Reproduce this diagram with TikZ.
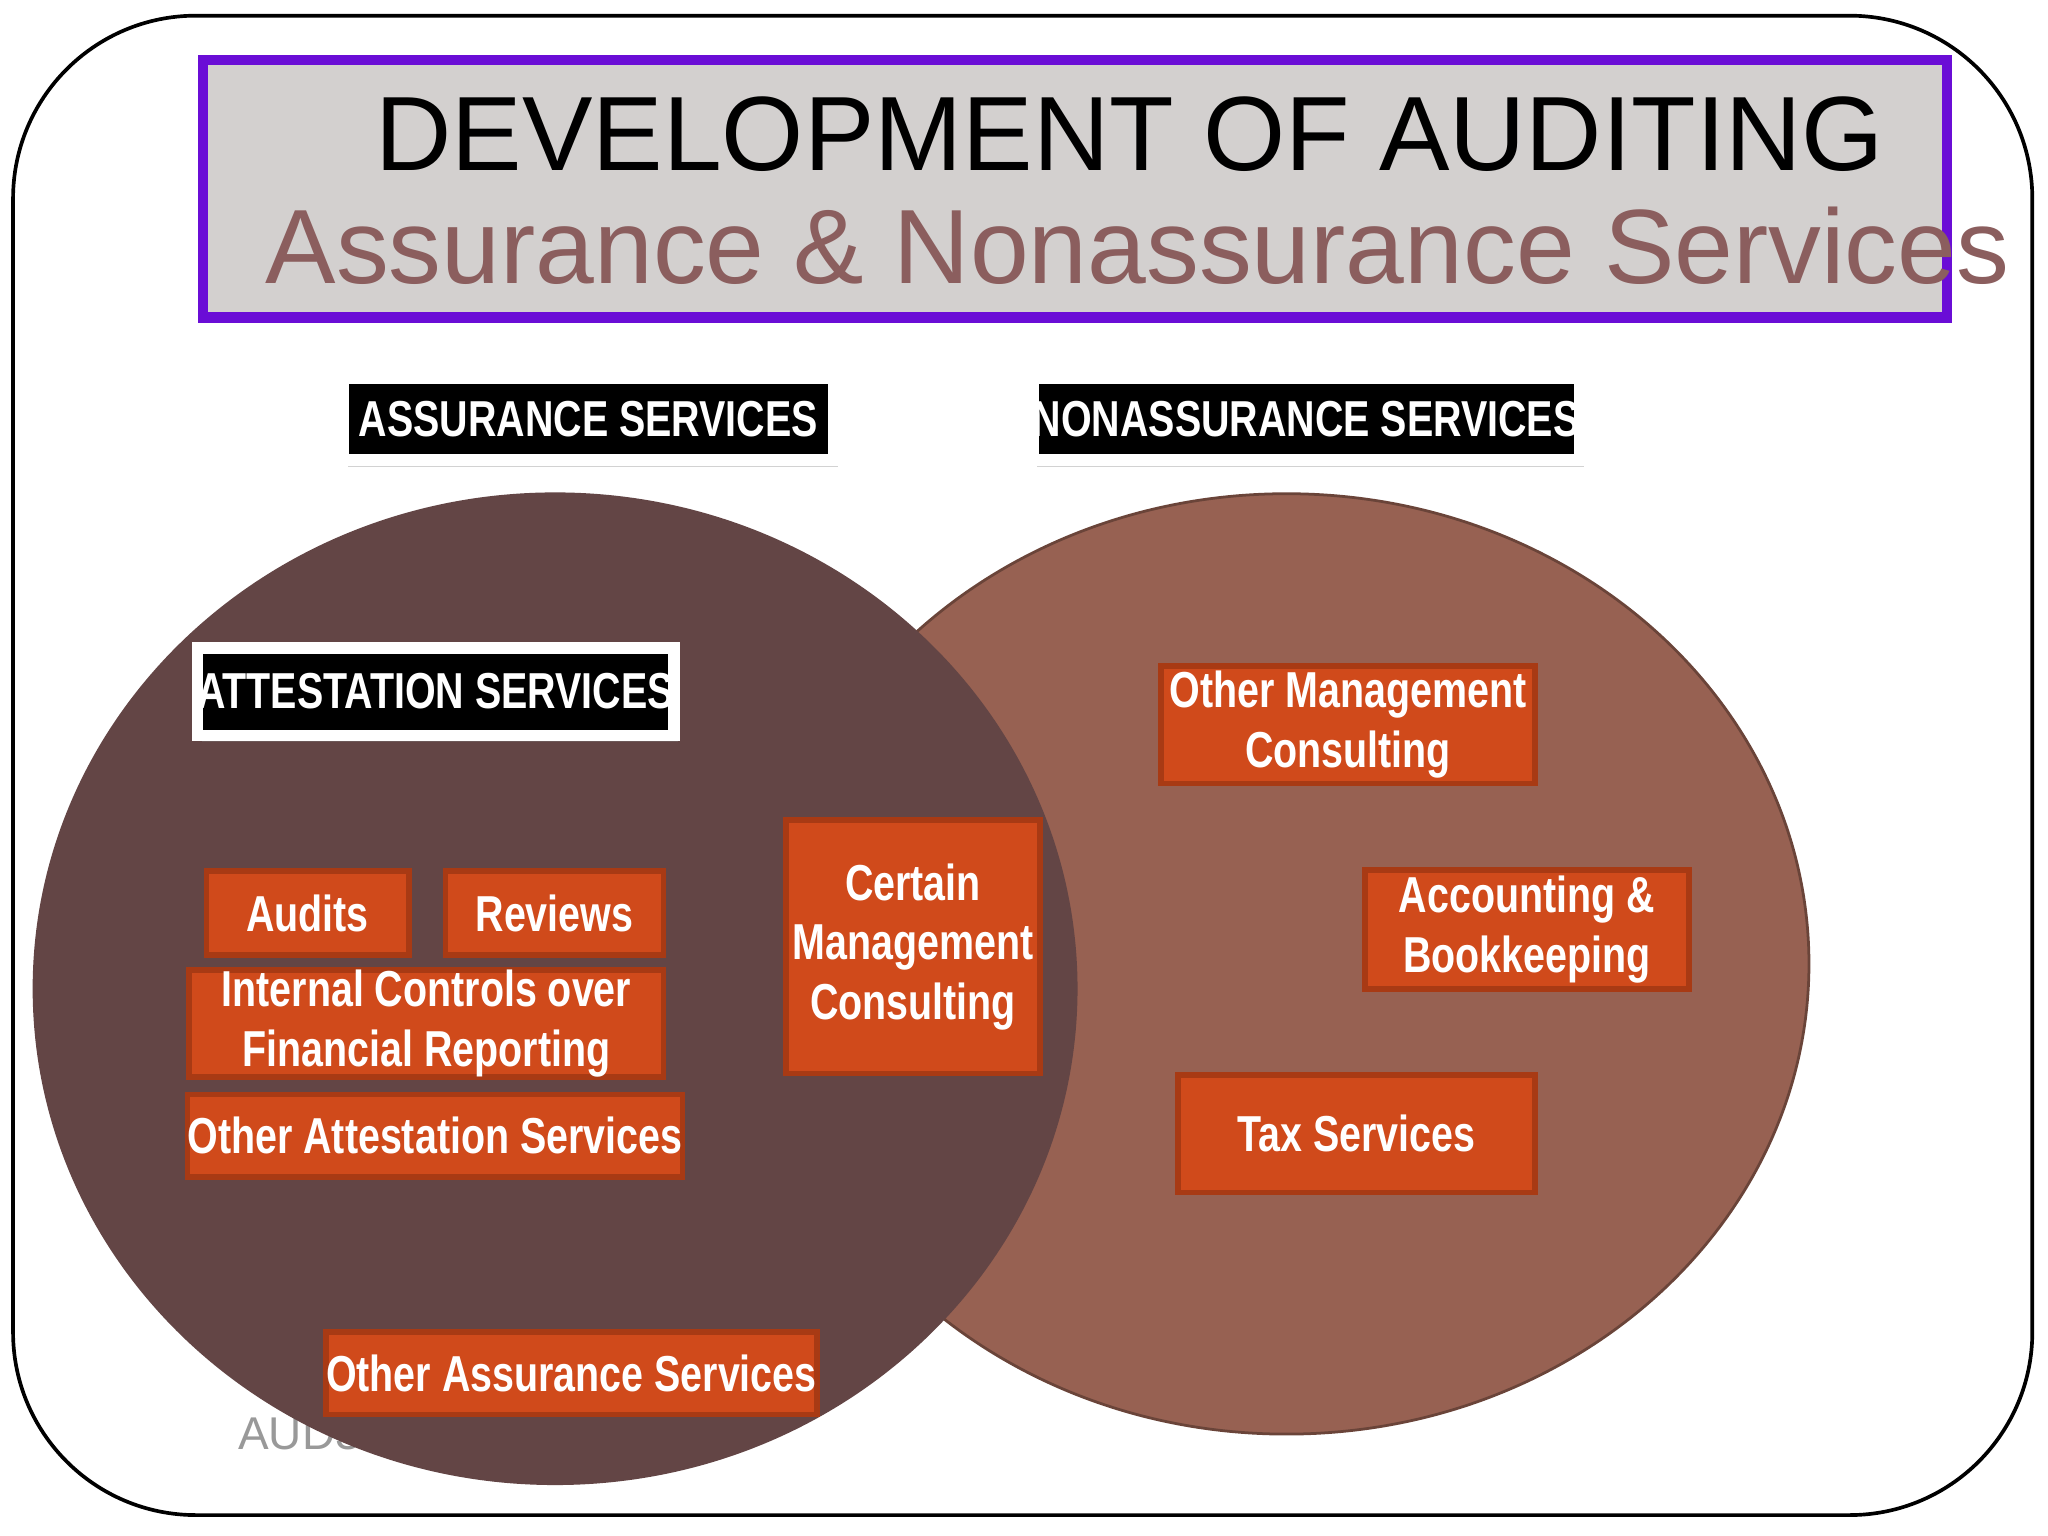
\documentclass[tikz,border=0pt]{standalone}
\usepackage{fontspec}
\setmainfont{Liberation Sans}
\newfontfamily\cond[FakeStretch=0.78]{Liberation Sans}
\usetikzlibrary{shadows}
\definecolor{purp}{HTML}{6A0DD6}
\definecolor{tgray}{HTML}{D3D0CF}
\definecolor{sub}{HTML}{8B5E5E}
\definecolor{lc}{HTML}{634545}
\definecolor{rc}{HTML}{976152}
\definecolor{obox}{HTML}{D04A1B}
\definecolor{oedge}{HTML}{A83A14}
\tikzset{
  ob/.style={fill=obox,draw=oedge,line width=1.2pt,text=white,font=\cond\bfseries\fontsize{11}{13}\selectfont,align=center,inner sep=0pt},
  bb/.style={fill=black,draw=white,line width=2.5pt,text=white,font=\cond\bfseries\fontsize{11}{13}\selectfont,align=center,inner sep=0pt,drop shadow={opacity=0.35,shadow xshift=1pt,shadow yshift=-1.5pt}}
}
\begin{document}
\begin{tikzpicture}[x=0.01cm,y=-0.01cm]
\useasboundingbox (0,0) rectangle (1568,1176);
\fill[white] (0,0) rectangle (1568,1176);
\draw[line width=0.8pt,rounded corners=1.4cm] (10,12) rectangle (1556,1160);
\node[draw=purp,fill=tgray,line width=2.2pt,minimum width=13.34cm,minimum height=1.97cm,inner sep=0pt] (title) at (823,144.5) {};
\node[font=\fontsize{23}{26}\selectfont] (t1) at (865,103) {DEVELOPMENT OF AUDITING};
\node[font=\fontsize{23}{26}\selectfont,text=sub] (t2) at (871,188) {Assurance \& Nonassurance Services};
\node[text=gray!80,font=\fontsize{10}{12}\selectfont,anchor=west] (aud) at (170,1098) {AUD301};
\fill[rc,draw=rc!70!black,line width=0.6pt] (985,738) ellipse [x radius=400,y radius=360];
\fill[lc] (425,757) ellipse [x radius=400,y radius=380];
\node[bb,minimum width=3.75cm,minimum height=0.62cm] (as) at (450.5,321) {ASSURANCE SERVICES};
\node[bb,minimum width=3.76cm,minimum height=0.62cm] (ns) at (1000,321) {NONASSURANCE SERVICES};
\node[bb,minimum width=3.53cm,minimum height=0.67cm] (att) at (333.5,529.5) {ATTESTATION SERVICES};
\node[ob,minimum width=1.55cm,minimum height=0.64cm] (audits) at (235.5,699) {Audits};
\node[ob,minimum width=1.67cm,minimum height=0.64cm] (rev) at (424.5,699) {Reviews};
\node[ob,minimum width=3.63cm,minimum height=0.77cm] (icfr) at (326.5,783.5) {Internal Controls over\\Financial Reporting};
\node[ob,minimum width=3.50cm,minimum height=0.63cm] (oas) at (333,869.5) {Other Attestation Services};
\node[ob,minimum width=1.94cm,minimum height=1.94cm] (cmc) at (699,725) {Certain\\Management\\Consulting};
\node[ob,minimum width=3.51cm,minimum height=0.63cm] (oass) at (437.5,1051.5) {Other Assurance Services};
\node[ob,minimum width=2.86cm,minimum height=0.90cm] (omc) at (1032,555) {Other Management\\Consulting};
\node[ob,minimum width=2.48cm,minimum height=0.91cm] (ab) at (1169,711.5) {Accounting \&\\Bookkeeping};
\node[ob,minimum width=2.73cm,minimum height=0.90cm] (tax) at (1038.5,868) {Tax Services};
\end{tikzpicture}
\end{document}
